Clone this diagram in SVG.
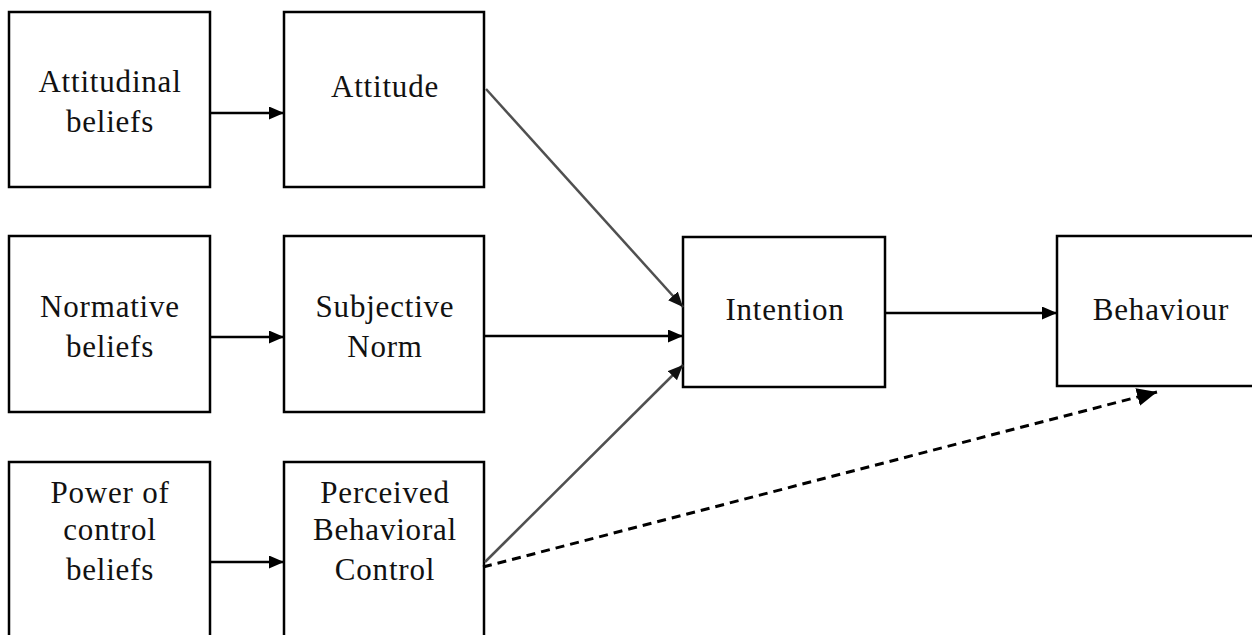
<svg xmlns="http://www.w3.org/2000/svg" width="1252" height="635" viewBox="0 0 1252 635">
<style>
.box{fill:#fff;stroke:#000;stroke-width:2.5}
.t{font-family:"Liberation Serif","Times New Roman",serif;font-size:31px;letter-spacing:0.8px;text-anchor:middle;fill:#111}
.c{fill:none;stroke:#000;stroke-width:2.5}
.g{fill:none;stroke:#505050;stroke-width:2.5}
.d{fill:none;stroke:#000;stroke-width:3;stroke-dasharray:9 6}
</style>
<defs>
<marker id="ah" markerUnits="userSpaceOnUse" markerWidth="17" markerHeight="14" refX="15" refY="6.5" orient="auto">
<path d="M0,0 L15,6.5 L0,13 Z" fill="#000"/>
</marker>
<marker id="ahg" markerUnits="userSpaceOnUse" markerWidth="17" markerHeight="14" refX="15" refY="6.5" orient="auto">
<path d="M0,0 L15,6.5 L0,13 Z" fill="#111"/>
</marker>
<marker id="ahd" markerUnits="userSpaceOnUse" markerWidth="22" markerHeight="20" refX="20" refY="9" orient="auto">
<path d="M0,0 L20,9 L0,18 Z" fill="#000"/>
</marker>
</defs>
<rect width="1252" height="635" fill="#fff"/>
<g id="attitudinal-beliefs">
<rect class="box" x="9" y="12" width="201" height="175"/>
<text class="t" x="110" y="92">Attitudinal</text>
<text class="t" x="110" y="132">beliefs</text>
</g>
<g id="attitude">
<rect class="box" x="284" y="12" width="200" height="175"/>
<text class="t" x="385" y="97">Attitude</text>
</g>
<g id="normative-beliefs">
<rect class="box" x="9" y="236" width="201" height="176"/>
<text class="t" x="110" y="317">Normative</text>
<text class="t" x="110" y="357">beliefs</text>
</g>
<g id="subjective-norm">
<rect class="box" x="284" y="236" width="200" height="176"/>
<text class="t" x="385" y="317">Subjective</text>
<text class="t" x="385" y="357">Norm</text>
</g>
<g id="power-of-control-beliefs">
<rect class="box" x="9" y="462" width="201" height="190"/>
<text class="t" x="110" y="503">Power of</text>
<text class="t" x="110" y="540">control</text>
<text class="t" x="110" y="580">beliefs</text>
</g>
<g id="perceived-behavioral-control">
<rect class="box" x="284" y="462" width="200" height="190"/>
<text class="t" x="385" y="503">Perceived</text>
<text class="t" x="385" y="540">Behavioral</text>
<text class="t" x="385" y="580">Control</text>
</g>
<g id="intention">
<rect class="box" x="683" y="237" width="202" height="150"/>
<text class="t" x="785" y="320">Intention</text>
</g>
<g id="behaviour">
<rect class="box" x="1057" y="236" width="210" height="150"/>
<text class="t" x="1161" y="320">Behaviour</text>
</g>
<g id="connectors">
<line class="c" x1="210" y1="113" x2="284" y2="113" marker-end="url(#ah)"/>
<line class="c" x1="210" y1="337" x2="284" y2="337" marker-end="url(#ah)"/>
<line class="c" x1="210" y1="562" x2="284" y2="562" marker-end="url(#ah)"/>
<line class="g" x1="486" y1="89" x2="683" y2="307" marker-end="url(#ahg)"/>
<line class="c" x1="485" y1="336" x2="683" y2="336" marker-end="url(#ah)"/>
<line class="g" x1="485" y1="562" x2="683" y2="365" marker-end="url(#ahg)"/>
<line class="c" x1="885" y1="313" x2="1057" y2="313" marker-end="url(#ah)"/>
<line class="d" x1="483" y1="567" x2="1157" y2="392" marker-end="url(#ahd)"/>
</g>
</svg>
